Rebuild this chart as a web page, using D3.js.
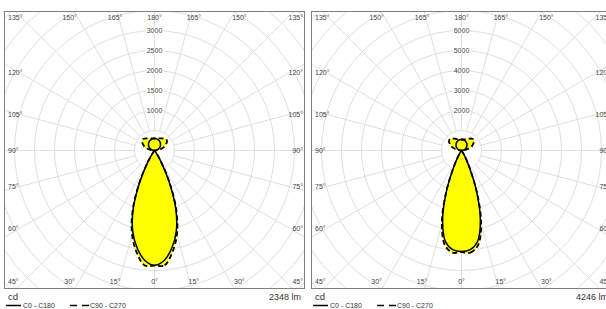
<!DOCTYPE html>
<html><head><meta charset="utf-8">
<script src="https://cdn.jsdelivr.net/npm/d3@7"></script>
<style>body{margin:0;background:#fff;overflow:hidden}</style>
</head><body>
<svg id="c" width="606" height="309"></svg>
<script>
// gamma angles (deg, 0 = straight down, 180 = straight up)
const gamma = [0,5,10,15,20,25,30,35,40,45,50,55,60,65,70,75,80,85,90,95,100,105,110,115,120,125,130,135,140,145,150,155,160,165,170,175,180];

// Left luminaire (cd)
const leftC0  = [2870,2760,2480,2100,1560,880,330,80,10,0,0,0,0,0,0,0,0,0,0,26,52,78,103,127,150,172,193,212,230,246,260,272,282,290,295,299,300];
const leftC90 = [2880,2880,2580,2170,1600,900,340,80,10,0,0,0,0,0,0,0,0,0,0,55,120,190,250,300,340,380,400,405,390,370,350,335,322,312,306,302,300];
// Right luminaire (cd)
const rightC0  = [5050,4980,4620,3650,2250,950,300,70,10,0,0,0,0,0,0,0,0,0,0,48,96,142,188,232,275,315,354,389,421,451,476,498,517,531,542,548,550];
const rightC90 = [5080,5130,4800,3800,2300,970,310,70,10,0,0,0,0,0,0,0,0,0,0,110,240,380,500,600,680,760,800,810,780,730,680,640,605,580,563,553,550];

const leftRingLabels  = [1000,1500,2000,2500,3000];
const rightRingLabels = [2000,3000,4000,5000,6000];
const topLabels    = ["135°","150°","165°","180°","165°","150°","135°"];
const bottomLabels = ["45°","30°","15°","0°","15°","30°","45°"];
const sideLabels   = ["120°","105°","90°","75°","60°"];
const lumenLabels  = ["2348 lm","4246 lm"];
const unitLabel    = "cd";
const legendLabels = ["C0 - C180","C90 - C270"];

const svg = d3.select("#c");
const FONT = "Liberation Sans, Arial, sans-serif";

function drawPanel(idx, ox, c0, c90, step, ringLabels, lm) {
  const fx = ox, fy = 11, fw = 301, fh = 278;
  const cx = fx + 150.5, cy = 150.5;
  const r = d3.scaleLinear().domain([0, step]).range([0, 20]);
  const g = svg.append("g");
  const clipId = "clip" + idx;
  svg.append("clipPath").attr("id", clipId).append("rect")
    .attr("x", fx).attr("y", fy).attr("width", fw).attr("height", fh);
  const grid = g.append("g").attr("clip-path", `url(#${clipId})`);

  // circles
  const rings = d3.range(1, 12).map(i => i * step);
  grid.selectAll("circle.ring").data(rings).join("circle")
    .attr("cx", cx).attr("cy", cy).attr("r", d => r(d))
    .attr("fill", "none").attr("stroke", "#d6d6d6").attr("stroke-width", 0.8);
  // spokes every 15°
  const spokes = d3.range(0, 360, 15);
  grid.selectAll("line.spoke").data(spokes).join("line")
    .attr("x1", d => cx + r(step) * Math.sin(d * Math.PI / 180))
    .attr("y1", d => cy + r(step) * Math.cos(d * Math.PI / 180))
    .attr("x2", d => cx + 400 * Math.sin(d * Math.PI / 180))
    .attr("y2", d => cy + 400 * Math.cos(d * Math.PI / 180))
    .attr("stroke", "#d6d6d6").attr("stroke-width", 0.8);

  // curves
  const toPts = vals => {
    const pts = [];
    gamma.forEach((gm, i) => pts.push([Math.PI - gm * Math.PI / 180, r(vals[i])]));
    for (let i = gamma.length - 2; i > 0; i--) pts.push([Math.PI + gamma[i] * Math.PI / 180, r(vals[i])]);
    return pts;
  };
  const line = d3.lineRadial().angle(d => d[0]).radius(d => d[1]).curve(d3.curveCatmullRomClosed.alpha(0.5));
  const lg = g.append("g").attr("transform", `translate(${cx},${cy})`);
  [c0, c90].forEach(v => lg.append("path").attr("d", line(toPts(v))).attr("fill", "#ffff00").attr("stroke", "none"));
  lg.append("path").attr("d", line(toPts(c90))).attr("fill", "none").attr("stroke", "#000")
    .attr("stroke-width", 1.8).attr("stroke-dasharray", "5,3");
  lg.append("path").attr("d", line(toPts(c0))).attr("fill", "none").attr("stroke", "#000")
    .attr("stroke-width", 1.5);

  // ring labels
  ringLabels.forEach(v => {
    const t = g.append("text").attr("x", cx).attr("y", cy - r(v)).attr("dy", "0.35em")
      .attr("text-anchor", "middle").attr("font-family", FONT).attr("font-size", 7).attr("fill", "#444").text(v);
    const b = t.node().getBBox();
    g.insert("rect", () => t.node()).attr("x", b.x - 1).attr("y", b.y).attr("width", b.width + 2).attr("height", b.height).attr("fill", "#fff");
  });

  // angle labels
  const offs = [-45, -30, -15, 0, 15, 30, 45];
  const lab = (x, y, txt, anchor) => g.append("text").attr("x", x).attr("y", y).attr("dy", "0.35em")
    .attr("text-anchor", anchor).attr("font-family", FONT).attr("font-size", 7).attr("fill", "#444").text(txt);
  offs.forEach((o, i) => {
    let x = cx + 147 * Math.tan(o * Math.PI / 180), anchor = "middle";
    if (o === -45) { x = fx + 4; anchor = "start"; }
    if (o === 45) { x = fx + fw - 2; anchor = "end"; }
    lab(x, 17.5, topLabels[i], anchor);
    lab(x, 282, bottomLabels[i], anchor);
  });
  const sideOffs = [30, 15, 0, -15, -30];
  sideOffs.forEach((o, i) => {
    const y = cy - 137 * Math.tan(o * Math.PI / 180) + (o > 0 ? 1 : o < 0 ? -1 : 0);
    lab(fx + 4, y, sideLabels[i], "start");
    lab(fx + fw - 2, y, sideLabels[i], "end");
  });

  // frame
  g.append("rect").attr("x", fx + 0.5).attr("y", fy + 0.5).attr("width", fw - 1).attr("height", fh - 1)
    .attr("fill", "none").attr("stroke", "#808080").attr("stroke-width", 1);

  // footer
  g.append("text").attr("x", fx + 4).attr("y", 300).attr("font-family", FONT).attr("font-size", 9.5).attr("fill", "#333").text(unitLabel);
  g.append("text").attr("x", fx + fw - 4).attr("y", 300).attr("text-anchor", "end").attr("font-family", FONT).attr("font-size", 9).attr("fill", "#333").text(lm);
  g.append("line").attr("x1", fx + 2).attr("x2", fx + 17).attr("y1", 305.5).attr("y2", 305.5).attr("stroke", "#000").attr("stroke-width", 1.5);
  g.append("text").attr("x", fx + 19).attr("y", 308).attr("font-family", FONT).attr("font-size", 7).attr("fill", "#333").text(legendLabels[0]);
  g.append("line").attr("x1", fx + 66).attr("x2", fx + 85).attr("y1", 305.5).attr("y2", 305.5).attr("stroke", "#000").attr("stroke-width", 1.5).attr("stroke-dasharray", "7,5");
  g.append("text").attr("x", fx + 86).attr("y", 308).attr("font-family", FONT).attr("font-size", 7).attr("fill", "#333").text(legendLabels[1]);
}

drawPanel(0, 4, leftC0, leftC90, 500, leftRingLabels, lumenLabels[0]);
drawPanel(1, 311, rightC0, rightC90, 1000, rightRingLabels, lumenLabels[1]);
</script>
</body></html>
